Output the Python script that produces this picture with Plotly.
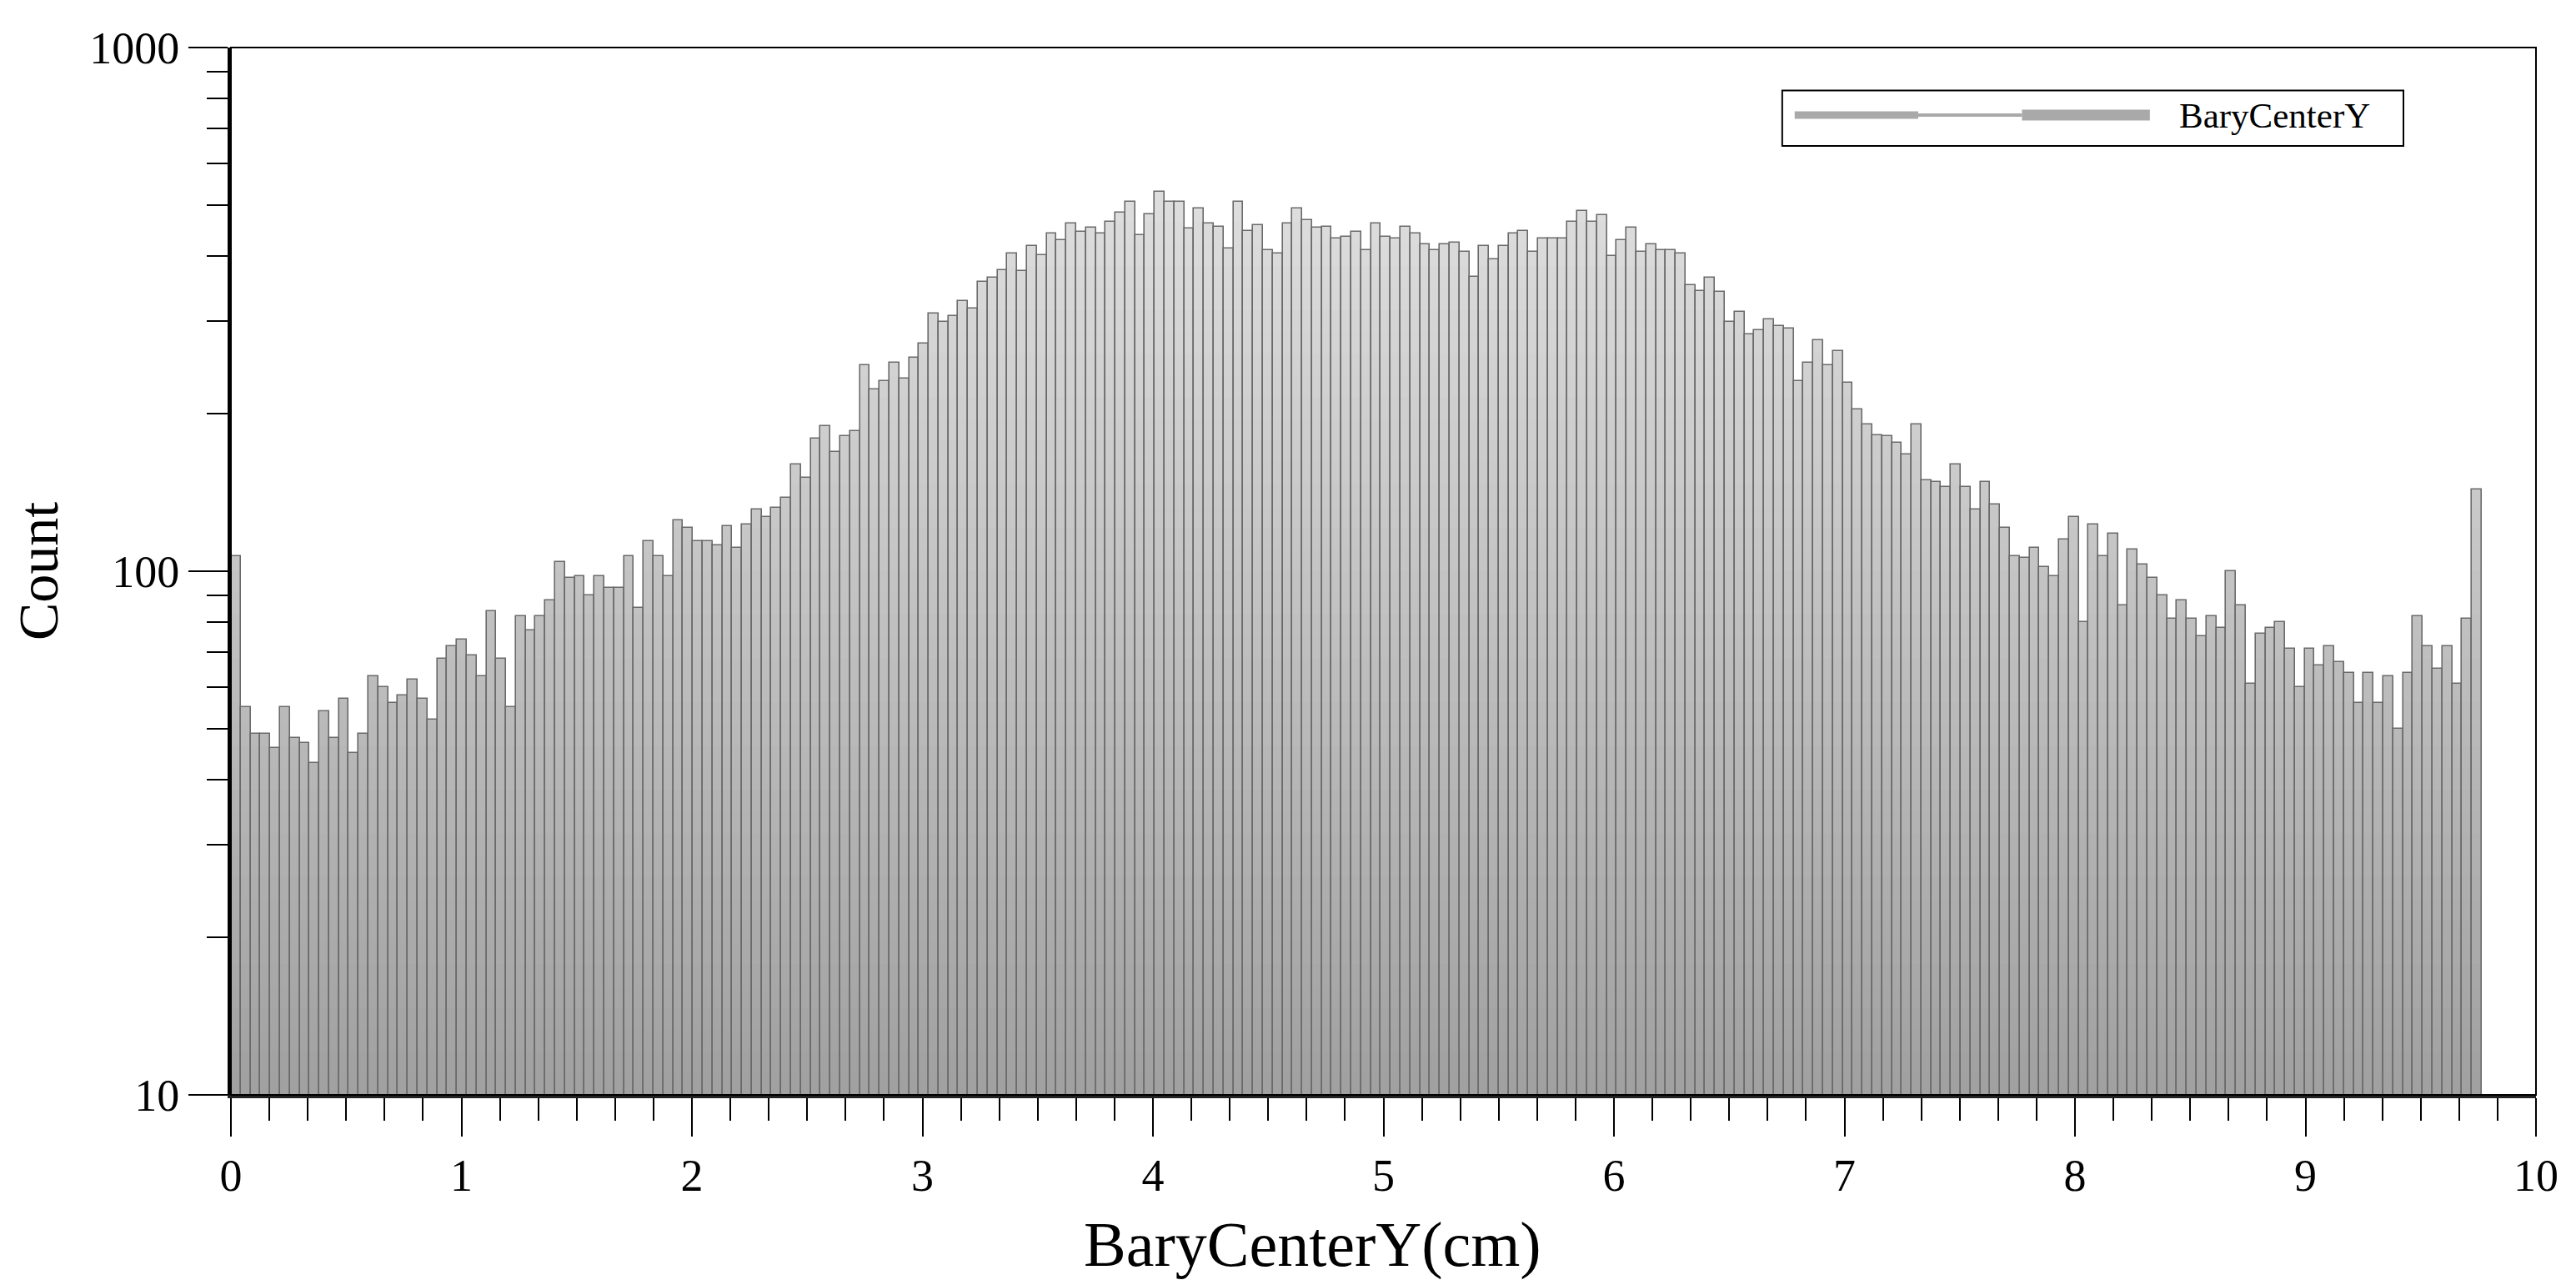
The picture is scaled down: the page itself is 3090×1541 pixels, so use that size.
import numpy as np
import plotly.graph_objects as go

# ---------------- data (histogram of BaryCenterY) ----------------
bin_start = 0.0
bin_width = 0.04264
counts = [
    107, 55, 49, 49, 46, 55, 48, 47, 43, 54,
    48, 57, 45, 49, 63, 60, 56, 58, 62, 57,
    52, 68, 72, 74, 69, 63, 84, 68, 55, 82,
    77, 82, 88, 104, 97, 98, 90, 98, 93, 93,
    107, 85, 114, 107, 98, 125, 121, 114, 114, 112,
    122, 111, 123, 131, 127, 132, 138, 160, 151, 179,
    189, 169, 181, 185, 247, 222, 231, 250, 233, 256,
    272, 311, 299, 307, 328, 317, 357, 364, 376, 404,
    374, 418, 402, 441, 429, 462, 444, 453, 441, 465,
    484, 507, 439, 480, 530, 507, 507, 451, 493, 462,
    455, 413, 507, 447, 458, 411, 405, 462, 493, 468,
    453, 455, 432, 435, 444, 411, 462, 435, 432, 455,
    441, 421, 411, 421, 424, 408, 365, 418, 394, 418,
    441, 447, 408, 432, 432, 432, 465, 487, 465, 478,
    400, 429, 453, 408, 421, 411, 411, 404, 352, 343,
    364, 341, 299, 313, 283, 289, 303, 294, 291, 231,
    250, 276, 247, 263, 229, 204, 191, 182, 181, 176,
    167, 191, 149, 148, 145, 160, 145, 131, 148, 134,
    121, 107, 106, 111, 102, 98, 115, 127, 80, 123,
    107, 118, 86, 110, 103, 97, 90, 81, 88, 81,
    75, 82, 78, 100, 86, 61, 76, 78, 80, 71,
    60, 71, 66, 72, 67, 64, 56, 64, 56, 63,
    50, 64, 82, 72, 65, 72, 61, 81, 143,
]
x_ticks = [0, 1, 2, 3, 4, 5, 6, 7, 8, 9, 10]
y_ticks = [10, 100, 1000]
y_minor = [20, 30, 40, 50, 60, 70, 80, 90, 200, 300, 400, 500, 600, 700, 800, 900]
series_name = "BaryCenterY"
x_title = "BaryCenterY(cm)"
y_title = "Count"

# ---------------- figure ----------------
W, H = 3090, 1541
L, R, T, B = 269, 56, 49, 236
FONT = "Liberation Serif, Times New Roman, serif"

vals = np.array(counts, dtype=float)
centers = bin_start + bin_width * (np.arange(len(vals)) + 0.5)

fig = go.Figure()

# vertical gradient fill, drawn as stacked bands on the log axis
NB = 48
lo_c, hi_c = 160, 232
for j in range(NB):
    lo = 10 ** (1 + 2 * j / NB)
    hi = 10 ** (1 + 2 * (j + 1) / NB)
    mask = vals > lo
    if not mask.any():
        continue
    top = np.minimum(vals[mask], hi * 1.003)
    t = (j + 0.5) / NB
    g = int(round(lo_c + (hi_c - lo_c) * t))
    fig.add_trace(go.Bar(
        x=centers[mask], y=top - lo, base=[lo] * int(mask.sum()),
        width=bin_width, marker=dict(color=f"rgb({g},{g},{g})", line=dict(width=0)),
        showlegend=False, hoverinfo="skip",
    ))

# outlines
fig.add_trace(go.Bar(
    x=centers, y=vals, width=bin_width, name=series_name,
    marker=dict(color="rgba(0,0,0,0)", line=dict(color="#6a6a6a", width=1.6)),
    showlegend=False,
))

fig.update_layout(
    width=W, height=H,
    margin=dict(l=L, r=R, t=T, b=B),
    paper_bgcolor="white", plot_bgcolor="white",
    barmode="overlay", bargap=0,
    font=dict(family=FONT, color="black", size=54),
    showlegend=False,
)

fig.update_xaxes(
    range=[0, 10], tickvals=x_ticks, ticktext=[str(v) for v in x_ticks],
    ticks="outside", ticklen=46, tickwidth=2, tickcolor="black",
    minor=dict(tick0=0, dtick=1 / 6, ticks="outside", ticklen=27, tickwidth=2, tickcolor="black"),
    showline=True, linecolor="#222222", linewidth=4, showgrid=False, zeroline=False,
    tickfont=dict(family=FONT, size=54, color="black"),
)
fig.update_yaxes(
    type="log", range=[1, 3], tickvals=y_ticks, ticktext=[str(v) for v in y_ticks],
    ticks="outside", ticklen=47, tickwidth=2, tickcolor="black",
    minor=dict(tickvals=y_minor, ticks="outside", ticklen=25, tickwidth=2, tickcolor="black"),
    showline=True, linecolor="black", linewidth=4, showgrid=False, zeroline=False,
    tickfont=dict(family=FONT, size=54, color="black"),
    title=dict(text=y_title, font=dict(family=FONT, size=68, color="black"), standoff=20),
)

# x-axis title (slightly left of centre, as in the original)
fig.add_annotation(xref="paper", yref="paper", x=0.4694, y=-0.1785,
                   xanchor="center", yanchor="bottom", text=x_title, showarrow=False,
                   font=dict(family=FONT, size=76, color="black"))

# frame (top/right)
fig.add_shape(type="rect", xref="paper", yref="paper", x0=0, x1=1, y0=0, y1=1,
              line=dict(color="black", width=2), fillcolor="rgba(0,0,0,0)", layer="above")

# legend box drawn like the original (thick-thin-thick sample)
lx0, lx1, ly0, ly1 = 0.673, 0.9425, 0.906, 0.959
ly = 0.9355
fig.add_shape(type="rect", xref="paper", yref="paper", x0=lx0, x1=lx1, y0=ly0, y1=ly1,
              line=dict(color="black", width=2), fillcolor="white", layer="above")
fig.add_shape(type="line", xref="paper", yref="paper", x0=0.6784, x1=0.732, y0=ly, y1=ly,
              line=dict(color="#a9a9a9", width=9), layer="above")
fig.add_shape(type="line", xref="paper", yref="paper", x0=0.732, x1=0.777, y0=ly, y1=ly,
              line=dict(color="#a9a9a9", width=4), layer="above")
fig.add_shape(type="line", xref="paper", yref="paper", x0=0.777, x1=0.8325, y0=ly, y1=ly,
              line=dict(color="#a9a9a9", width=13), layer="above")
fig.add_annotation(xref="paper", yref="paper", x=0.8444, y=ly, xanchor="left", yanchor="middle",
                   text=series_name, showarrow=False,
                   font=dict(family=FONT, size=43, color="black"))

fig.write_html("out.html")
